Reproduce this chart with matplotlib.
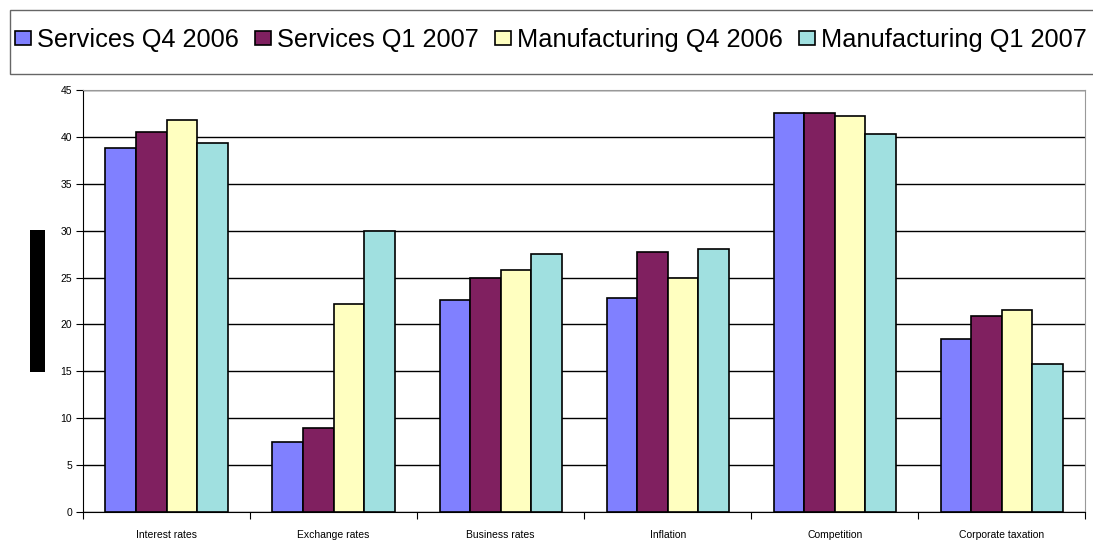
import matplotlib
matplotlib.use("Agg")
import matplotlib.pyplot as plt
import numpy as np
from matplotlib.patches import Rectangle

categories = ["Interest rates", "Exchange rates", "Business rates",
              "Inflation", "Competition", "Corporate taxation"]
tick_labels = ["Interest rates", "Exchange rates", "Business rates",
               "Inflation", "Competition", "Corporate taxation"]
services_q4_2006 = [38.8, 7.5, 22.6, 22.8, 42.6, 18.5]
services_q1_2007 = [40.5, 9.0, 25.0, 27.7, 42.5, 20.9]
manufacturing_q4_2006 = [41.8, 22.2, 25.8, 25.0, 42.2, 21.5]
manufacturing_q1_2007 = [39.4, 30.0, 27.5, 28.0, 40.3, 15.8]

series_names = ["Services Q4 2006", "Services Q1 2007",
                "Manufacturing Q4 2006", "Manufacturing Q1 2007"]
series_colors = ["#8080FF", "#802060", "#FFFFC0", "#A0E0E0"]

plt.rcParams['font.family'] = ['Liberation Sans', 'DejaVu Sans']

fig = plt.figure(figsize=(10.93, 5.41), dpi=100)
ax = fig.add_axes([0.076, 0.0536, 0.917, 0.78])

x = np.arange(len(categories))
w = 0.183
reihen = [services_q4_2006, services_q1_2007, manufacturing_q4_2006, manufacturing_q1_2007]
for i, (werte, name, farbe) in enumerate(zip(reihen, series_names, series_colors)):
    ax.bar(x + (i - 1.5) * w, werte, w, color=farbe, edgecolor="black",
           linewidth=1.2, label=name, zorder=3)

ax.set_xlim(-0.5, len(categories) - 0.5)
ax.set_ylim(0, 45)
ax.set_yticks(np.arange(0, 46, 5))
ax.yaxis.grid(True, color="black", linewidth=1, zorder=0)
ax.tick_params(axis="y", direction="out", length=5, labelsize=7.5, pad=3)

# Kategorie-Ticks an den Grenzen, Beschriftung in der Mitte
ax.set_xticks(np.arange(-0.5, len(categories), 1))
ax.set_xticklabels([])
ax.set_xticks(x, minor=True)
ax.set_xticklabels(tick_labels, minor=True, fontsize=7.5)
ax.tick_params(axis="x", which="major", direction="out", length=5)
ax.tick_params(axis="x", which="minor", length=0, pad=13)

ax.spines["top"].set_color("#999999")
ax.spines["right"].set_color("#999999")
ax.spines["left"].set_color("black")
ax.spines["bottom"].set_color("black")

# Legendenrahmen, rechts abgeschnitten
fig.patches.append(Rectangle((10 / 1093, 1 - 74 / 541), 1.2, 64 / 541,
                             transform=fig.transFigure, facecolor="white",
                             edgecolor="#666666", linewidth=1, zorder=0))
fig.legend(loc="center left", bbox_to_anchor=(15 / 1093, 1 - 40 / 541), ncol=4,
           frameon=False, fontsize=18.3, handlelength=0.63, handleheight=0.5,
           handletextpad=0.24, columnspacing=0.63, borderaxespad=0, borderpad=0)

# schwarzer Balken links (verdeckte Achsenbeschriftung)
fig.patches.append(Rectangle((30 / 1093, 1 - 372 / 541), 15 / 1093, 142 / 541,
                             transform=fig.transFigure, facecolor="black",
                             edgecolor="none"))

fig.savefig("out.png", dpi=100)
